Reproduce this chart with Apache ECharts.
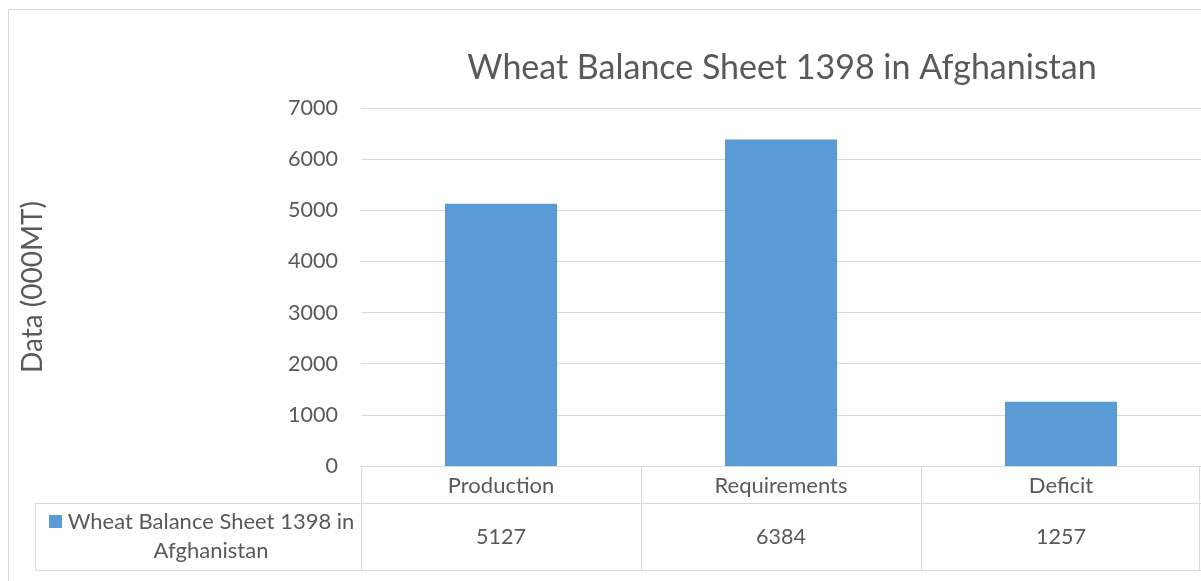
<!DOCTYPE html>
<html>
<head>
<meta charset="utf-8">
<script src="https://cdn.jsdelivr.net/npm/echarts@6/dist/echarts.min.js"></script>
<style>
html,body{margin:0;padding:0;background:#fff;}
#chart{width:1201px;height:581px;}
</style>
</head>
<body>
<div id="chart"></div>
<script>
const titleText = 'Wheat Balance Sheet 1398 in Afghanistan';
const seriesName = 'Wheat Balance Sheet 1398 in Afghanistan';
const legendLines = ['Wheat Balance Sheet 1398 in', 'Afghanistan'];
const categories = ['Production', 'Requirements', 'Deficit'];
const values = [5127, 6384, 1257];
const yTicks = [0, 1000, 2000, 3000, 4000, 5000, 6000, 7000];
const yAxisName = 'Data (000MT)';

const FONT = 'Lato';
const TXT = '#595959';
const LINE = '#d9d9d9';
const BAR = '#5b9bd5';

const chart = echarts.init(document.getElementById('chart'), null, {renderer: 'canvas'});

const gridLeft = 361, gridTop = 108, gridBottom = 115, gridRight = 0;
const rowH1 = 37, rowH2 = 67;

const option = {
  backgroundColor: '#fff',
  animation: false,
  textStyle: {fontFamily: FONT},
  title: {
    text: titleText,
    left: 777,
    textAlign: 'center',
    top: 46,
    textStyle: {fontFamily: FONT, fontSize: 34, fontWeight: 'normal', color: TXT}
  },
  grid: {left: gridLeft, right: gridRight, top: gridTop, bottom: gridBottom, containLabel: false},
  xAxis: [
    {
      type: 'category',
      data: categories,
      position: 'bottom',
      axisLine: {show: true, lineStyle: {color: LINE, width: 1}},
      axisTick: {show: true, interval: 0, length: rowH1 + rowH2, lineStyle: {color: LINE}},
      axisLabel: {color: TXT, fontFamily: FONT, fontSize: 22, margin: 9, interval: 0},
      splitLine: {show: false}
    },
    {
      type: 'category',
      data: values.map(v => String(v)),
      position: 'bottom',
      offset: rowH1,
      axisLine: {show: true, lineStyle: {color: LINE, width: 1}},
      axisTick: {show: false},
      axisLabel: {color: TXT, fontFamily: FONT, fontSize: 21.5, margin: 23, interval: 0},
      splitLine: {show: false}
    }
  ],
  yAxis: {
    type: 'value',
    min: yTicks[0],
    max: yTicks[yTicks.length - 1],
    interval: yTicks[1] - yTicks[0],
    name: yAxisName,
    nameLocation: 'middle',
    nameRotate: 90,
    nameGap: 314,
    nameTextStyle: {color: TXT, fontFamily: FONT, fontSize: 28},
    axisLine: {show: false},
    axisTick: {show: false},
    axisLabel: {color: TXT, fontFamily: FONT, fontSize: 21.5, margin: 23, formatter: v => String(v)},
    splitLine: {show: true, lineStyle: {color: LINE, width: 1}}
  },
  series: [{
    name: seriesName,
    type: 'bar',
    data: values,
    barWidth: '40%',
    itemStyle: {color: BAR},
    xAxisIndex: 0
  }]
};
chart.setOption(option);

// Data-table decorations (lines + legend key), positioned from the axis scale
const y0 = chart.convertToPixel({yAxisIndex: 0}, 0);
const row1 = y0 + rowH1;
const row2 = row1 + rowH2;
const tableLeft = 35;
const W = 1201;
chart.setOption({
  graphic: [
    {type: 'rect', silent: true, shape: {x: 8.5, y: 9.5, width: 1300, height: 700},
     style: {fill: null, stroke: LINE, lineWidth: 1}, z: -10},
    {type: 'line', silent: true, shape: {x1: tableLeft, y1: row1 + 0.5, x2: gridLeft, y2: row1 + 0.5}, style: {stroke: LINE, lineWidth: 1}},
    {type: 'line', silent: true, shape: {x1: tableLeft, y1: row2 + 0.5, x2: W, y2: row2 + 0.5}, style: {stroke: LINE, lineWidth: 1}},
    {type: 'line', silent: true, shape: {x1: tableLeft + 0.5, y1: row1, x2: tableLeft + 0.5, y2: row2}, style: {stroke: LINE, lineWidth: 1}},
    {type: 'line', silent: true, shape: {x1: W - 1.5, y1: y0, x2: W - 1.5, y2: row2}, style: {stroke: LINE, lineWidth: 1}},
    {type: 'rect', silent: true, shape: {x: 49, y: 515, width: 13, height: 13}, style: {fill: BAR}},
    {type: 'text', silent: true, x: 211, y: 536,
     style: {text: legendLines.join('\n'), fill: TXT, font: '22px ' + FONT,
             align: 'center', verticalAlign: 'middle', lineHeight: 29}},
  ]
});
</script>
</body>
</html>
